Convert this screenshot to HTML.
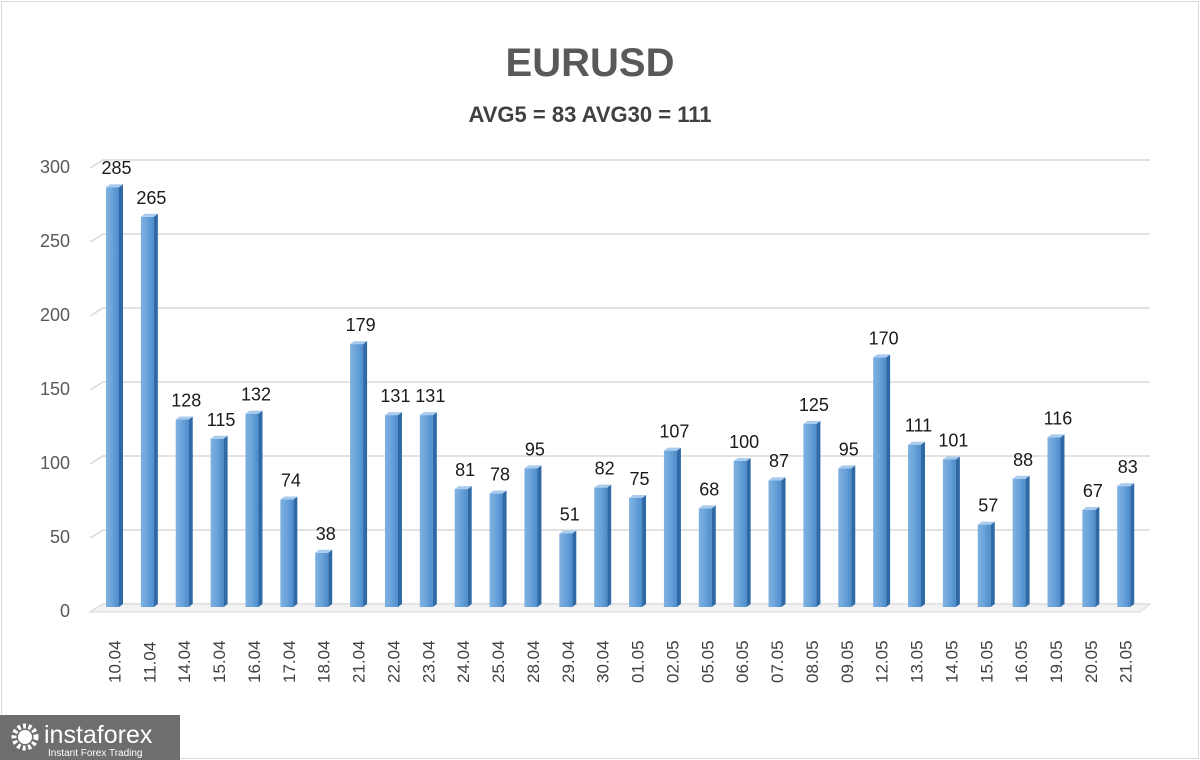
<!DOCTYPE html>
<html><head><meta charset="utf-8"><style>
body{margin:0;background:#fff;}
#wrap{position:relative;width:1200px;height:760px;overflow:hidden;background:#fff;font-family:"Liberation Sans",sans-serif;}
#frame{position:absolute;left:1px;top:1px;width:1196px;height:756px;border:1px solid #d9d9d9;}
#logo{position:absolute;left:0;top:715px;width:180px;height:45px;background:#6e6e6e;color:#fff;}
</style></head><body>
<div id="wrap">
<div id="frame"></div>
<svg id="chart" width="1200" height="760" style="position:absolute;left:0;top:0">
<defs>
<linearGradient id="bg" x1="0" x2="1"><stop offset="0" stop-color="#7fb1e0"/><stop offset="0.5" stop-color="#6aa3da"/><stop offset="1" stop-color="#4d8ccb"/></linearGradient>
</defs>
<text x="590" y="76" text-anchor="middle" font-size="40" font-weight="bold" fill="#595959">EURUSD</text>
<text x="590" y="122" text-anchor="middle" font-size="22" font-weight="bold" fill="#404040">AVG5 = 83 AVG30 = 111</text>
<g id="grid"></g><g id="bars"></g><g id="labels"></g>
</svg>
<div id="logo">
<svg width="180" height="45" style="position:absolute;left:0;top:0">
<circle cx="25" cy="22" r="11" fill="none" stroke="#fff" stroke-width="5" stroke-dasharray="3 2.5"/>
<circle cx="25" cy="22" r="7" fill="#fff"/>
<text x="44" y="28" font-size="25" fill="#fff" font-family="Liberation Sans,sans-serif">instaforex</text>
<text x="48" y="41" font-size="10" fill="#fff" font-family="Liberation Sans,sans-serif">Instant Forex Trading</text>
</svg>
</div>
</div>
<script>
const categories=["10.04","11.04","14.04","15.04","16.04","17.04","18.04","21.04","22.04","23.04","24.04","25.04","28.04","29.04","30.04","01.05","02.05","05.05","06.05","07.05","08.05","09.05","12.05","13.05","14.05","15.05","16.05","19.05","20.05","21.05"];
const values=[285,265,128,115,132,74,38,179,131,131,81,78,95,51,82,75,107,68,100,87,125,95,170,111,101,57,88,116,67,83];
const yTicks=[0,50,100,150,200,250,300];
const NS="http://www.w3.org/2000/svg";
const y0=604,yScale=444/300,barY0=609,x0=106,pitch=34.87,bw=17;
function yPos(v){return y0-v*yScale;}
function barY(v){return barY0-v*yScale;}
function xPos(i){return x0+i*pitch;}
function mk(tag,attrs,parent){const e=document.createElementNS(NS,tag);for(const k in attrs)e.setAttribute(k,attrs[k]);parent.appendChild(e);return e;}
const grid=document.getElementById('grid'),bars=document.getElementById('bars'),labels=document.getElementById('labels');
yTicks.forEach(t=>{
 const y=yPos(t);
 const l=mk('polyline',{points:`90,${y+8} 103,${y} 1150,${y}`,fill:'none',stroke:'#d9d9d9','stroke-width':1.5},grid);
 
 
 const tx=mk('text',{x:70,y:y+13,'text-anchor':'end','font-size':18,fill:'#595959'},grid);
 tx.textContent=t;
 
 
});
mk('polygon',{points:`90,${y0+8} 103,${y0} 1150,${y0} 1140,${y0+8}`,fill:'#f2f2f2',stroke:'#d9d9d9'},grid);
values.forEach((v,i)=>{
 const x=xPos(i),y=barY(v);
 const g=mk('g',{},bars);
 
 
 mk('rect',{x:x,y:y,width:bw-4,height:barY0-y-2,fill:'url(#bg)'},g);
 mk('polygon',{points:`${x+bw-4},${y} ${x+bw},${y-3} ${x+bw},${barY0-5} ${x+bw-4},${barY0-2}`,fill:'#2f6aa6'},g);
 mk('polygon',{points:`${x},${y} ${x+4},${y-3} ${x+bw},${y-3} ${x+bw-4},${y}`,fill:'#a9cbee'},g);
 const t=mk('text',{x:x+bw/2+2,y:y-13,'text-anchor':'middle','font-size':18,fill:'#1a1a1a'},labels);
 t.textContent=v;
 
 
 const c=mk('text',{transform:`translate(${x+bw/2+6},683) rotate(-90)`,'font-size':17,fill:'#404040'},labels);
 c.textContent=categories[i];
 
 
});
</script>
</body></html>
